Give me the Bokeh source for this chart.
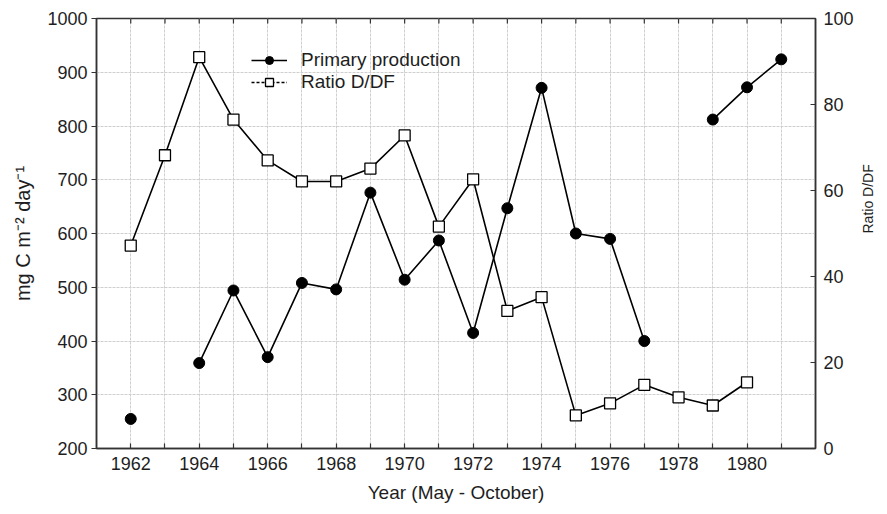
import math
from bokeh.plotting import figure
from bokeh.models import (Range1d, LinearAxis, FixedTicker, ColumnDataSource,
                          Legend, LegendItem)
from bokeh.embed import file_html
from bokeh.resources import INLINE

nan = float("nan")

years = list(range(1962, 1982))
primary_production = [255, nan, 359, 494, 370, 508, 496, 676, 514, 587,
                      415, 647, 871, 600, 590, 400, nan, 812, 872, 924]
ratio_d_df = [47.2, 68.2, 91.0, 76.5, 67.0, 62.1, 62.1, 65.1, 72.8, 51.6,
              62.6, 32.0, 35.2, 7.7, 10.5, 14.8, 11.9, 10.0, 15.4, nan]
x_ticks = list(range(1962, 1982))
x_labels = {y: (str(y) if y % 2 == 0 else "") for y in x_ticks}
left_ticks = [200, 300, 400, 500, 600, 700, 800, 900, 1000]
right_ticks = [0, 20, 40, 60, 80, 100]

FONT = "Liberation Sans"
TXT = "#1e1e1e"
AX = "#333333"

p = figure(width=887, height=514, output_backend="svg", toolbar_location=None,
           x_range=Range1d(1961, 1982), y_range=Range1d(200, 1000),
           min_border_left=96, min_border_right=72, min_border_top=18,
           min_border_bottom=66, x_axis_location=None, y_axis_location=None)
p.extra_y_ranges = {"ratio": Range1d(0, 100)}
p.outline_line_color = AX
p.outline_line_width = 1.5
p.background_fill_color = "white"
p.border_fill_color = "white"

def style_axis(ax, tick_in, tick_out):
    ax.axis_line_color = AX
    ax.axis_line_width = 1.5
    ax.major_tick_line_color = AX
    ax.major_tick_line_width = 1.2
    ax.major_tick_in = tick_in
    ax.major_tick_out = tick_out
    ax.minor_tick_line_color = None
    ax.major_label_text_font = FONT
    ax.major_label_text_font_size = "18px"
    ax.major_label_text_color = TXT
    ax.axis_label_text_font = FONT
    ax.axis_label_text_font_size = "19px"
    ax.axis_label_text_font_style = "normal"
    ax.axis_label_text_color = TXT

xb = LinearAxis(ticker=FixedTicker(ticks=x_ticks), axis_label="Year (May - October)",
                major_label_overrides=x_labels)
style_axis(xb, 5, 0)
xb.major_label_standoff = 8
xb.axis_label_standoff = 9
p.add_layout(xb, "below")

yl = LinearAxis(ticker=FixedTicker(ticks=left_ticks),
                axis_label="mg C m\u207b\u00b2 day\u207b\u00b9")
style_axis(yl, 0, 5)
yl.major_label_standoff = 4
yl.axis_label_standoff = 10
yl.axis_label_text_font_size = "20px"
p.add_layout(yl, "left")

yr = LinearAxis(y_range_name="ratio", ticker=FixedTicker(ticks=right_ticks),
                axis_label="Ratio D/DF")
style_axis(yr, 5, 0)
yr.major_label_standoff = 8
yr.axis_label_standoff = 11
yr.axis_label_text_font_size = "14px"
yr.axis_label_orientation = math.pi / 2
p.add_layout(yr, "right")

# inward ticks along the top edge of the frame
p.ray(x=x_ticks, y=[1000] * len(x_ticks), length=5, length_units="screen",
      angle=-math.pi / 2, line_color=AX, line_width=1.2)

p.xgrid.ticker = FixedTicker(ticks=x_ticks)
p.ygrid.ticker = FixedTicker(ticks=left_ticks)
for g in (p.xgrid, p.ygrid):
    g.grid_line_color = "#cfcfcf"
    g.grid_line_width = 1
    g.grid_line_dash = "3 1"

src = ColumnDataSource(dict(x=years, pp=primary_production, r=ratio_d_df))

p.line("x", "pp", source=src, line_color="black", line_width=1.6)
p.scatter("x", "pp", source=src, marker="circle", size=11,
          fill_color="black", line_color="black")
p.line("x", "r", source=src, y_range_name="ratio", line_color="black", line_width=1.6)
p.scatter("x", "r", source=src, y_range_name="ratio", marker="square", size=11,
          fill_color="white", line_color="black", line_width=1.3)

# legend proxies (reference legend shows a dashed line for the ratio)
empty = ColumnDataSource(dict(x=[nan], y=[nan]))
lg1 = p.line("x", "y", source=empty, line_color="black", line_width=1.6)
lg1m = p.scatter("x", "y", source=empty, marker="circle", size=11,
                 fill_color="black", line_color="black")
lg2 = p.line("x", "y", source=empty, line_color="black", line_width=1.4, line_dash="3 2")
lg2m = p.scatter("x", "y", source=empty, marker="square", size=11,
                 fill_color="white", line_color="black", line_width=1.3)

legend = Legend(items=[LegendItem(label="Primary production", renderers=[lg1, lg1m]),
                       LegendItem(label="Ratio D/DF", renderers=[lg2, lg2m])],
                location=(155, 355))
legend.background_fill_alpha = 0
legend.border_line_color = None
legend.label_text_font = FONT
legend.label_text_font_size = "19px"
legend.label_text_color = TXT
legend.glyph_width = 36
legend.glyph_height = 20
legend.label_height = 20
legend.spacing = 0
legend.padding = 5
legend.margin = 0
legend.label_standoff = 14
p.add_layout(legend, "center")

open("out.html", "w").write(file_html(p, INLINE))
